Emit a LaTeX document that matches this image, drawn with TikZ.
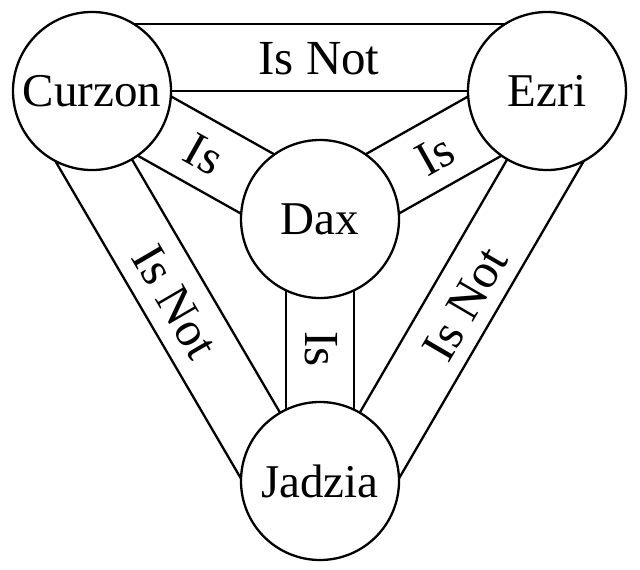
\documentclass[tikz,border=0pt]{standalone}
\usepackage{fontspec}
\setmainfont{Liberation Serif}
\usetikzlibrary{calc,backgrounds}
\begin{document}
\begin{tikzpicture}[x=1pt,y=-1pt,
  person/.style={circle,draw,line width=2.3pt,fill=white,minimum size=158pt,inner sep=0pt,font=\fontsize{47}{47}\selectfont},
  band/.style={line width=2.3pt},
  rel/.style={font=\fontsize{49}{49}\selectfont,inner sep=0pt}]
\useasboundingbox (0,0) rectangle (640,570);
\node[person] (cur) at (92,91) {Curzon};
\node[person] (ezr) at (547,91) {Ezri};
\node[person] (dax) at (320,219) {Dax};
\node[person] (jad) at (320,481) {Jadzia};
\begin{pgfonlayer}{background}
% Curzon -- Ezri (outer band)
\draw[band] ($(cur)!67pt!90:(ezr)$) -- ($(ezr)!67pt!-90:(cur)$);
\draw[band] (cur.center) -- (ezr.center);
% Curzon -- Jadzia (outer band)
\draw[band] ($(cur)!67pt!-90:(jad)$) -- ($(jad)!67pt!90:(cur)$);
\draw[band] (cur.center) -- (jad.center);
% Ezri -- Jadzia (outer band)
\draw[band] ($(ezr)!67pt!90:(jad)$) -- ($(jad)!67pt!-90:(ezr)$);
\draw[band] (ezr.center) -- (jad.center);
% inner bands to Dax
\draw[band] ($(cur)!34pt!90:(dax)$) -- ($(dax)!34pt!-90:(cur)$);
\draw[band] ($(cur)!34pt!-90:(dax)$) -- ($(dax)!34pt!90:(cur)$);
\draw[band] ($(ezr)!34pt!90:(dax)$) -- ($(dax)!34pt!-90:(ezr)$);
\draw[band] ($(ezr)!34pt!-90:(dax)$) -- ($(dax)!34pt!90:(ezr)$);
\draw[band] ($(jad)!34pt!90:(dax)$) -- ($(dax)!34pt!-90:(jad)$);
\draw[band] ($(jad)!34pt!-90:(dax)$) -- ($(dax)!34pt!90:(jad)$);
\end{pgfonlayer}
\node[rel] (tce) at (319,59) {Is Not};
\node[rel,rotate=-59.7] (tcj) at (175,302) {Is Not};
\node[rel,rotate=59.7] (tej) at (465,304) {Is Not};
\node[rel,rotate=-29.3] (tcd) at (204,154) {Is};
\node[rel,rotate=29.3] (ted) at (435,155) {Is};
\node[rel,rotate=-90] (tdj) at (321,349) {Is};
\end{tikzpicture}
\end{document}
